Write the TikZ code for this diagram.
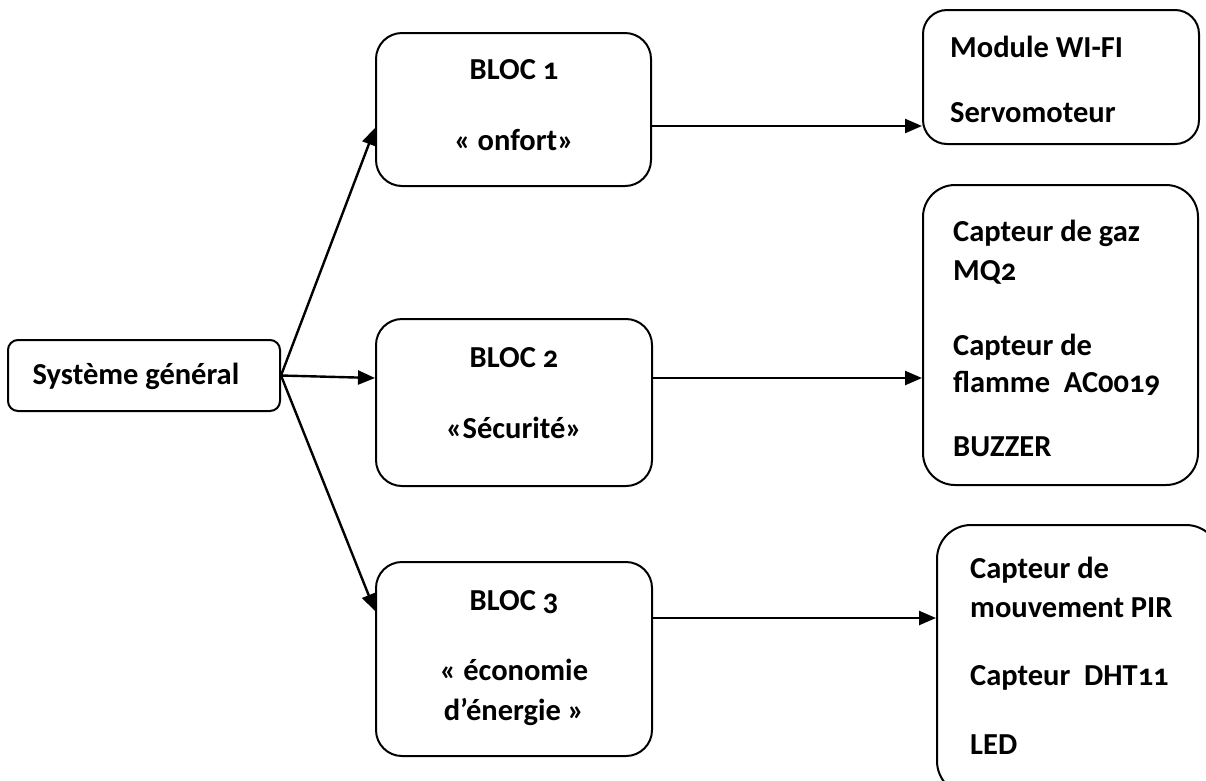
\documentclass[tikz,border=0pt]{standalone}
\usepackage{fontspec}
\setmainfont{Carlito}[Numbers=OldStyle]
\usetikzlibrary{arrows.meta,calc}
\tikzset{
  box/.style={draw, line width=2pt, rounded corners=#1, inner sep=0pt},
  txt/.style={inner sep=0pt, font=\fontsize{30.5pt}{36pt}\selectfont\bfseries},
  lt/.style={txt, anchor=west},
  arr/.style={line width=2.4pt, -{Triangle[length=17pt,width=14pt]}}
}
\begin{document}
\begin{tikzpicture}[x=1pt, y=-1pt]
\useasboundingbox (0,0) rectangle (1206,780);
\clip (0,0) rectangle (1206,780);
% boxes
\node[box=10pt, minimum width=272pt, minimum height=71pt] (sys) at (144,375.5) {};
\node[box=26pt, minimum width=275pt, minimum height=153pt] (b1) at (513.5,109.5) {};
\node[box=26pt, minimum width=276pt, minimum height=167pt] (b2) at (514,402.5) {};
\node[box=26pt, minimum width=276pt, minimum height=194pt] (b3) at (514,659) {};
\node[box=24pt, minimum width=276pt, minimum height=134pt] (m1) at (1061,77) {};
\node[box=32pt, minimum width=275pt, minimum height=300pt] (m2) at (1060.5,335) {};
\node[box=34pt, minimum width=283pt, minimum height=270pt] (m3) at (1078.5,660) {};
% texts
\node[txt] (tsys) at (136,376) {Système général};
\node[txt] (t1a) at (514,70) {BLOC 1};
\node[txt] (t1b) at (514,140) {« onfort»};
\node[txt] (t2a) at (514,358) {BLOC 2};
\node[txt] (t2b) at (514,428) {«Sécurité»};
\node[txt] (t3a) at (514,602) {BLOC 3};
\node[txt] (t3b) at (514,670) {« économie};
\node[txt] (t3c) at (514,712) {d’énergie »};
\node[lt] (m1a) at (950,47) {Module WI-FI};
\node[lt] (m1b) at (950,113) {Servomoteur};
\node[lt] (m2a) at (953,233) {Capteur de gaz};
\node[lt] (m2b) at (953,272) {MQ2};
\node[lt] (m2c) at (953,347) {Capteur de};
\node[lt] (m2d) at (953,383) {flamme\ \ AC0019};
\node[lt] (m2e) at (953,447) {BUZZER};
\node[lt] (m3a) at (970,570) {Capteur de};
\node[lt] (m3b) at (970,608) {mouvement PIR};
\node[lt] (m3c) at (970,678) {Capteur\ \ DHT11};
\node[lt] (m3d) at (970,745) {LED};
% connectors
\draw[arr] (sys.east) -- ([yshift=-18.5pt]b1.west);
\draw[arr] (sys.east) -- ([yshift=24.5pt]b2.west);
\draw[arr] (sys.east) -- ([yshift=48pt]b3.west);
\coordinate (o1) at ([yshift=-16.5pt]b1.east);
\coordinate (o2) at ([yshift=24.5pt]b2.east);
\coordinate (o3) at ([yshift=41pt]b3.east);
\draw[arr] (o1) -- (o1 -| m1.west);
\draw[arr] (o2) -- (o2 -| m2.west);
\draw[arr] (o3) -- (o3 -| m3.west);
\end{tikzpicture}
\end{document}
